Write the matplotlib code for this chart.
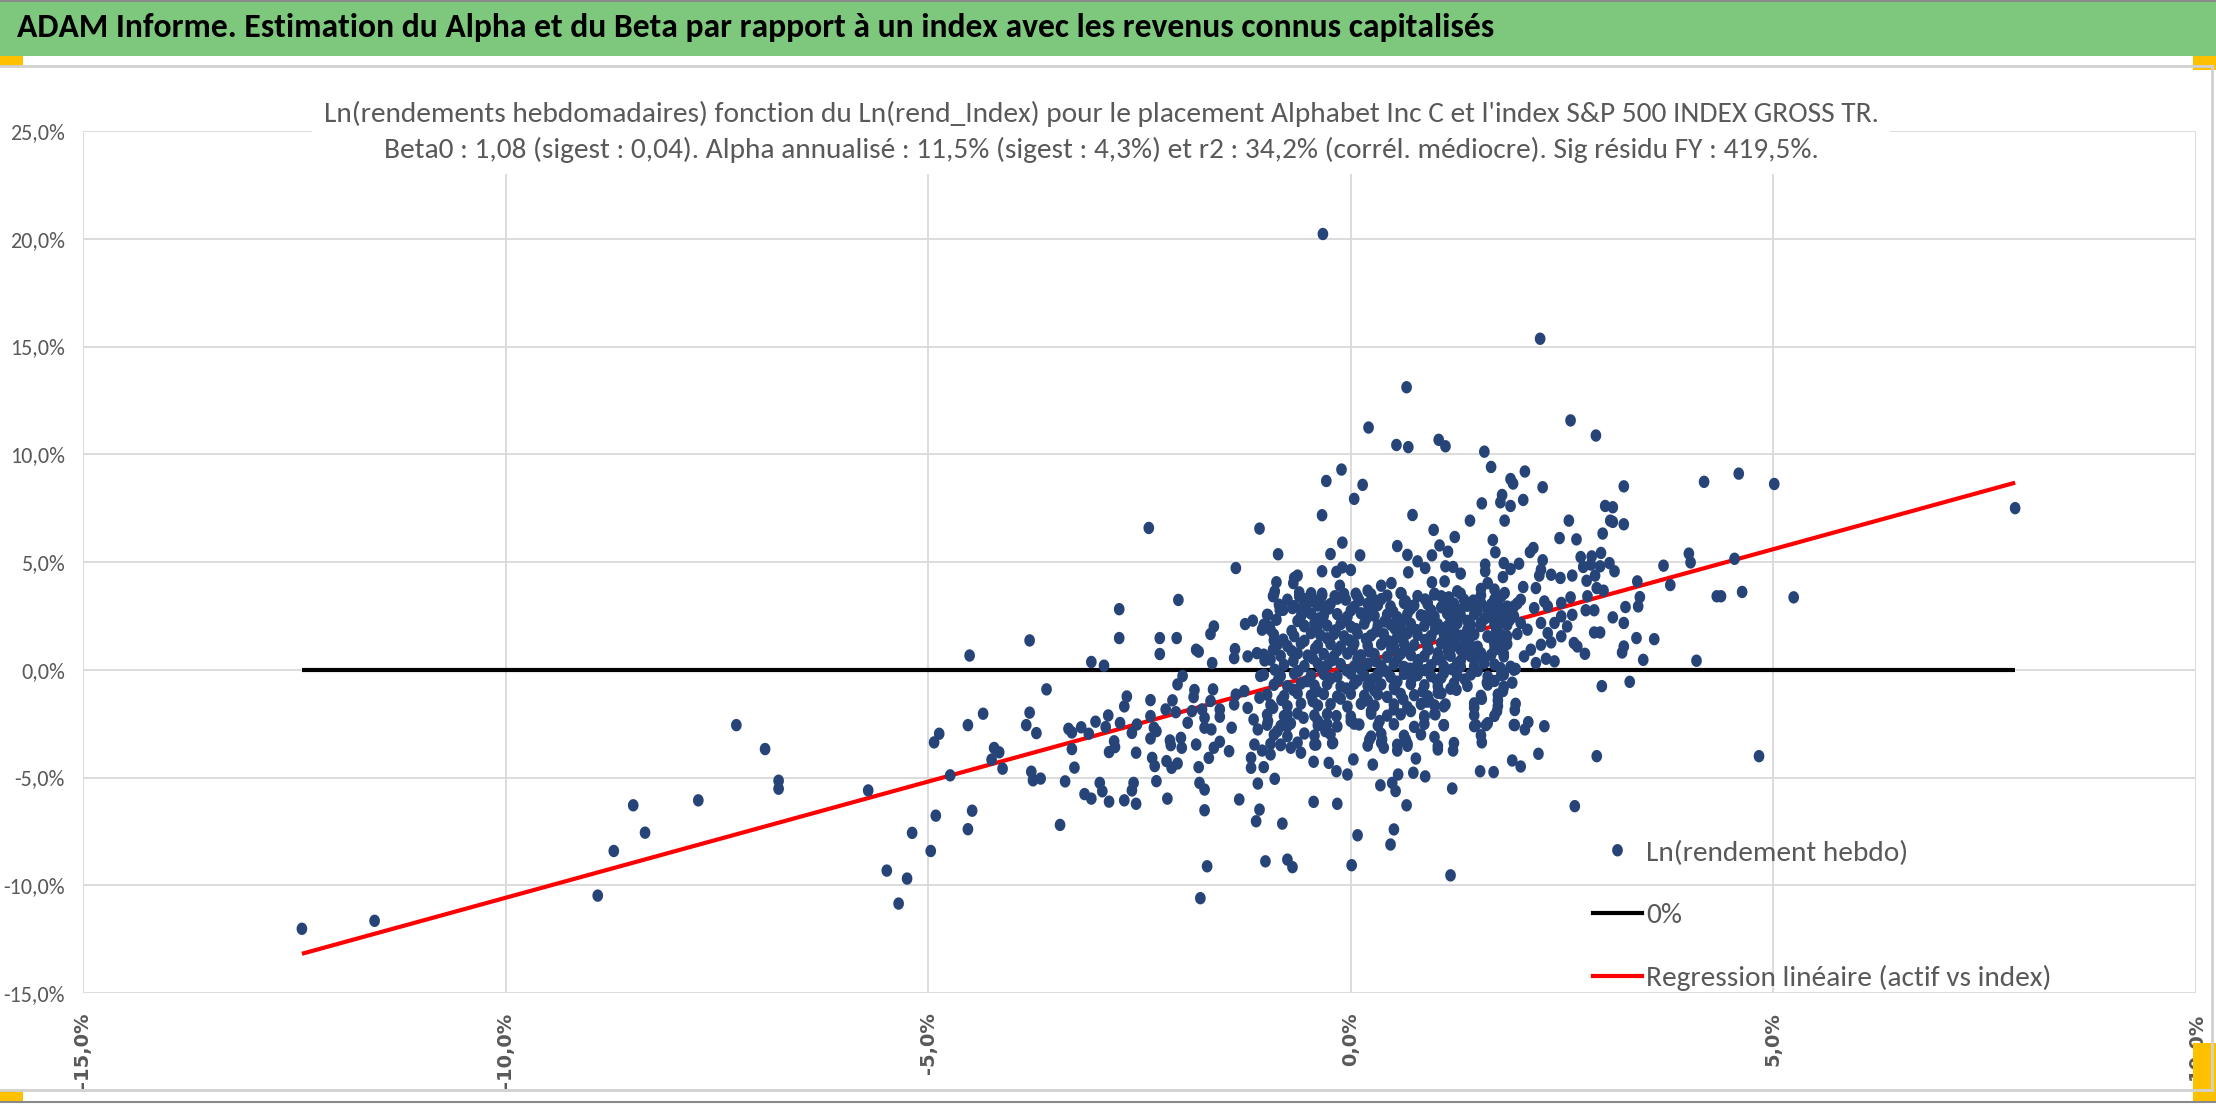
import numpy as np
import matplotlib
matplotlib.use("Agg")
import matplotlib.pyplot as plt
from matplotlib import font_manager
from matplotlib.path import Path
from matplotlib.lines import Line2D
from matplotlib.patches import Rectangle

# ==========================================
# 1. DATA (% units)
# ==========================================
# isolated points, far left
pts_left = [
    (-12.41, -12.02), (-11.55, -11.65), (-8.91, -10.48), (-8.72, -8.41), (-8.49, -6.29),
    (-8.35, -7.56), (-7.72, -6.06), (-7.27, -2.57), (-6.93, -3.68), (-6.77, -5.15),
    (-6.77, -5.52), (-5.71, -5.60), (-5.49, -9.32), (-5.35, -10.85), (-5.25, -9.69),
    (-5.19, -7.57), (-4.97, -8.41), (-4.91, -6.77), (-4.93, -3.37), (-4.87, -2.97),
    (-4.74, -4.90), (-4.53, -2.57), (-4.51, 0.66), (-4.53, -7.40), (-4.48, -6.54),
    (-4.35, -2.04), (-4.25, -4.17), (-4.22, -3.63), (-4.16, -3.83), (-4.12, -4.59),
    (-3.80, 1.36), (-3.84, -2.57), (-3.80, -1.99), (-3.72, -2.94), (-3.78, -4.73),
    (-3.76, -5.13), (-3.67, -5.05), (-3.60, -0.91), (-3.44, -7.20), (-3.38, -5.18),
    (-3.34, -2.74), (-3.30, -2.91), (-3.30, -3.68), (-3.27, -4.54), (-3.19, -2.67),
    (-3.15, -5.77), (-3.07, -5.98), (-3.10, -2.97), (-3.07, 0.36), (-3.02, -2.41),
    (-2.97, -5.25), (-2.94, -5.64), (-2.92, 0.19), (-2.90, -2.66), (-2.87, -2.12),
    (-2.86, -3.82), (-2.86, -6.12), (-2.80, -3.32), (-2.79, -3.59), (-2.74, 2.81),
    (-2.74, 1.47), (-2.73, -2.47), (-2.68, -1.70), (-2.68, -6.06), (-2.65, -1.24),
]
# high outliers and other stragglers
pts_top = [
    (-0.33, 20.22), (2.24, 15.36), (0.66, 13.11), (0.21, 11.24), (0.54, 10.43),
    (0.68, 10.33), (1.04, 10.67), (1.12, 10.37), (1.58, 10.12), (2.60, 11.57),
    (2.90, 10.87), (7.86, 7.50), (-1.78, -10.60),
]
# upper-left side of the cloud
pts_ul = [
    (-2.39, 6.58), (-2.26, 1.47), (-2.26, 0.73), (-2.06, 1.47), (-2.04, 3.24),
    (-1.83, 0.93), (-1.80, 0.84), (-1.66, 1.66), (-1.62, 2.01), (-1.64, 0.31),
    (-1.36, 4.72), (-1.37, 0.96), (-1.38, 0.54), (-1.22, 0.62), (-1.25, 2.12),
    (-1.16, 2.28), (-1.11, 0.77), (-1.08, 6.55), (-1.05, 1.86), (-0.98, 2.54),
    (-0.96, 1.98), (-1.02, 0.43), (-0.91, 1.36), (-0.86, 5.36), (-0.88, 4.06),
    (-0.92, 3.41), (-0.90, 3.64), (-0.84, 2.76), (-0.69, 2.86), (-0.67, 4.26),
    (-0.63, 4.37), (-0.68, 4.02), (-0.61, 3.59), (-0.59, 2.79), (-0.55, 2.04),
    (-0.53, 3.28), (-0.45, 3.17), (-0.39, 3.07), (-0.34, 7.17), (-0.29, 8.76),
    (-0.34, 4.57), (-0.34, 3.53), (-0.30, 2.94), (-0.33, 2.28), (-0.24, 5.37),
    (-0.11, 9.29), (-0.10, 5.90), (-0.17, 4.54), (-0.10, 4.75), (0.00, 4.63),
    (-0.13, 3.90), (-0.19, 3.41), (-0.06, 3.25), (0.04, 7.93), (0.14, 8.58),
    (0.11, 5.31), (0.06, 3.53), (0.20, 3.67), (0.28, 3.22), (0.36, 3.90),
    (0.48, 4.02), (0.55, 5.74), (0.67, 5.33), (0.68, 4.52), (0.73, 7.18),
    (0.79, 5.03), (0.60, 3.53),
]
# upper-right side of the cloud
pts_ur = [
    (1.66, 9.41), (2.06, 9.20), (1.89, 8.85), (1.92, 8.64), (2.27, 8.47),
    (3.23, 8.51), (1.55, 7.72), (1.79, 8.11), (1.77, 7.77), (1.89, 7.60),
    (2.04, 7.88), (1.41, 6.92), (1.82, 6.92), (3.01, 7.60), (3.10, 7.54),
    (3.07, 6.92), (3.10, 6.86), (3.23, 6.75), (4.18, 8.72), (4.59, 9.10),
    (5.01, 8.62), (0.98, 6.49), (1.23, 6.16), (1.68, 6.02), (2.58, 6.92),
    (2.47, 6.11), (2.67, 6.05), (2.98, 6.32), (1.05, 5.77), (1.15, 5.48),
    (0.96, 5.31), (1.71, 5.45), (2.12, 5.46), (2.16, 5.65), (2.27, 5.08),
    (2.72, 5.23), (2.85, 5.26), (2.96, 5.42), (0.88, 4.72), (1.12, 4.80),
    (1.21, 4.77), (1.30, 4.46), (1.59, 4.88), (1.59, 4.57), (1.81, 4.95),
    (1.99, 4.92), (1.89, 4.67), (2.25, 4.64), (2.23, 4.37), (2.37, 4.41),
    (2.48, 4.26), (2.62, 4.37), (2.75, 4.77), (2.84, 4.88), (2.95, 4.80),
    (3.06, 4.95), (3.12, 4.57), (2.89, 4.37), (2.79, 4.13), (2.91, 3.79),
    (2.99, 3.67), (0.99, 3.53), (0.96, 4.06), (1.11, 4.10), (1.26, 3.64),
    (1.54, 3.75), (1.62, 4.02), (1.70, 3.72), (1.80, 4.30), (1.82, 3.56),
    (2.04, 3.84), (2.19, 3.79), (2.60, 3.36), (2.80, 3.41), (3.39, 4.10),
    (3.70, 4.83), (3.78, 3.93), (4.00, 5.39), (4.02, 4.98), (4.54, 5.15),
    (3.42, 3.37), (3.40, 2.94), (3.25, 2.91), (4.33, 3.41), (4.38, 3.41),
    (4.63, 3.61), (5.24, 3.36), (3.10, 2.43), (3.23, 2.17), (3.38, 1.47),
    (3.59, 1.42), (3.23, 1.08), (3.21, 0.80), (3.46, 0.46), (4.09, 0.42),
    (2.77, 0.74), (2.95, 1.73), (2.88, 1.73), (2.78, 2.76), (2.88, 2.76),
    (2.64, 1.24), (2.68, 1.08), (2.41, 0.39), (2.31, 0.51), (2.19, 0.31),
    (2.37, 1.27), (2.25, 1.16), (2.62, 2.55), (2.49, 3.10), (2.29, 3.17),
    (2.33, 2.94), (2.17, 2.86), (2.01, 3.25), (1.93, 2.94), (1.87, 2.48),
    (1.77, 2.17), (1.74, 3.10), (1.70, 2.63), (1.62, 2.79), (1.54, 3.10),
    (1.46, 2.94), (1.34, 3.25), (1.30, 2.79), (1.22, 2.48), (1.15, 3.10),
    (1.07, 3.41), (0.91, 3.10), (0.87, 2.48), (0.99, 2.17), (1.15, 1.86),
    (1.38, 1.86), (1.54, 2.17), (1.62, 1.55), (1.77, 1.24), (1.85, 1.55),
    (2.01, 2.17), (2.09, 1.86), (2.13, 0.93), (2.05, 0.62), (1.81, 0.62),
    (1.70, 0.93), (1.54, 0.77), (1.42, 0.62), (1.30, 0.93), (1.22, 1.24),
    (1.07, 1.24), (0.95, 1.55), (0.91, 0.93), (1.07, 0.46), (1.30, 0.15),
    (1.58, 0.31), (1.77, 0.08), (1.93, 0.00), (2.25, 2.17), (2.41, 2.17),
    (2.49, 2.48), (2.56, 2.01), (2.49, 1.55), (2.33, 1.70),
]
# lower-left side of the cloud
pts_ll = [
    (-2.59, -2.93), (-2.57, -5.25), (-2.59, -5.60), (-2.54, -3.85), (-2.54, -6.22),
    (-2.53, -2.54), (-2.37, -1.41), (-2.37, -2.15), (-2.37, -3.19), (-2.35, -4.09),
    (-2.32, -4.47), (-2.30, -5.17), (-2.33, -2.69), (-2.30, -2.85), (-2.19, -1.84),
    (-2.18, -4.24), (-2.17, -5.98), (-2.14, -3.28), (-2.13, -3.50), (-2.12, -4.55),
    (-2.11, -1.42), (-2.07, -1.97), (-2.05, -4.35), (-2.01, -3.16), (-2.00, -3.62),
    (-2.05, -0.68), (-1.99, -0.29), (-1.93, -2.46), (-1.88, -1.92), (-1.86, -1.27),
    (-1.85, -0.94), (-1.83, -3.47), (-1.80, -4.52), (-1.79, -5.25), (-1.73, -5.56),
    (-1.73, -6.52), (-1.70, -9.12), (-1.76, -1.84), (-1.73, -2.23), (-1.73, -2.69),
    (-1.68, -4.09), (-1.66, -1.45), (-1.63, -0.91), (-1.65, -2.77), (-1.62, -3.62),
    (-1.55, -2.18), (-1.55, -3.34), (-1.55, -1.84), (-1.44, -3.78), (-1.41, -2.69),
    (-1.38, -1.61), (-1.36, -1.15), (-1.32, -6.02), (-1.26, -0.99), (-1.22, -1.77),
    (-1.18, -4.55), (-1.18, -4.09), (-1.15, -2.31), (-1.14, -3.47), (-1.12, -7.03),
    (-1.08, -6.49), (-1.10, -5.28), (-1.07, -0.29), (-1.03, -4.52), (-1.05, -3.75),
    (-1.01, -8.89), (-1.10, -2.77), (-1.08, -1.30), (-0.98, -2.38), (-0.95, -3.93),
    (-0.92, -1.77), (-0.90, -5.06), (-0.87, -2.85), (-0.83, -3.47), (-0.81, -7.14),
    (-0.75, -8.81), (-0.69, -9.16), (-0.75, -2.08), (-0.71, -3.62), (-0.75, -2.62),
    (-0.59, -3.85), (-0.56, -2.23), (-0.44, -4.27), (-0.44, -6.13), (-0.41, -3.47),
    (-0.39, -2.38), (-0.30, -2.85), (-0.26, -4.32), (-0.21, -3.39), (-0.17, -2.15),
    (-0.17, -4.71), (-0.16, -6.22), (-0.04, -4.86), (0.01, -9.07), (0.03, -4.16),
    (0.08, -7.68), (0.00, -2.38), (0.10, -2.54), (0.22, -3.24), (0.26, -4.40),
    (0.35, -5.36), (0.37, -3.24), (0.39, -3.62), (0.34, -2.38), (0.47, -8.11),
    (0.51, -7.41), (0.49, -5.25), (0.53, -5.63), (0.55, -3.75), (0.56, -4.86),
    (0.66, -6.29), (0.65, -3.24), (0.67, -3.53), (0.77, -4.12), (0.74, -4.78),
    (0.71, -1.92), (0.24, -1.92), (0.51, -1.84),
]
# lower-right side of the cloud
pts_lr = [
    (2.97, -0.76), (3.30, -0.56), (2.91, -4.01), (4.83, -4.01), (2.65, -6.33),
    (1.18, -9.54), (1.20, -5.51), (0.88, -4.95), (1.03, -3.70), (1.21, -3.75),
    (1.53, -4.71), (1.69, -4.75), (1.91, -4.21), (2.01, -4.49), (2.22, -3.90),
    (1.55, -3.37), (1.48, -2.57), (1.60, -2.57), (1.94, -2.57), (2.06, -2.77),
    (2.10, -2.43), (2.29, -2.62), (1.10, -2.57), (1.00, -2.07), (0.87, -2.15),
    (1.46, -1.76), (1.73, -1.92), (1.74, -1.42), (1.95, -1.58), (1.94, -1.87),
    (1.55, -1.35), (1.12, -1.61), (0.93, -1.46), (1.03, -1.07), (1.25, -0.93),
    (1.61, -0.60), (1.80, -0.99), (1.91, -0.60), (1.81, -0.22), (1.07, -0.37),
]
# dense core of the cloud, read row by row
core_x = [
    -0.91, -0.61, -0.47, -0.34, -0.08, 0.08, 0.24, 0.43, 0.59, 0.79, 0.99, 1.16, 1.30, 1.54, 1.78,
    -0.85, -0.67, -0.55, -0.39, -0.24, 0.04, 0.20, 0.32, 0.47, 0.63, 0.75, 0.91, 1.07, 1.22, 1.38, 1.66, 1.85, 1.97,
    -0.99, -0.59, -0.47, -0.32, -0.16, -0.04, 0.12, 0.28, 0.43, 0.55, 0.67, 0.83, 0.99, 1.14, 1.30, 1.46, 1.62, 1.78, 1.93,
    -1.03, -0.55, -0.43, -0.28, -0.12, 0.00, 0.16, 0.32, 0.47, 0.59, 0.71, 0.87, 1.03, 1.14, 1.26, 1.42, 1.54, 1.70, 1.85,
    -0.91, -0.67, -0.47, -0.36, -0.20, -0.08, 0.08, 0.24, 0.39, 0.55, 0.67, 0.79, 0.95, 1.10, 1.30, 1.46, 1.62, 1.78, 1.97,
    -0.87, -0.75, -0.59, -0.39, -0.24, -0.12, 0.04, 0.20, 0.36, 0.51, 0.63, 0.75, 0.91, 1.07, 1.22, 1.34, 1.50, 1.70, 1.85,
    -1.03, -0.83, -0.63, -0.51, -0.32, -0.20, -0.04, 0.12, 0.28, 0.43, 0.59, 0.71, 0.87, 1.03, 1.18, 1.34, 1.50, 1.66, 1.81,
    -0.79, -0.55, -0.39, -0.28, -0.12, 0.04, 0.20, 0.36, 0.51, 0.63, 0.79, 0.95, 1.10, 1.26, 1.46, 1.70, 1.89,
    -1.03, -0.83, -0.67, -0.47, -0.32, -0.16, 0.00, 0.16, 0.32, 0.47, 0.63, 0.79, 0.95, 1.10, 1.26, 1.42, 1.62, 1.78,
    -0.91, -0.75, -0.59, -0.43, -0.28, -0.12, 0.04, 0.20, 0.36, 0.51, 0.71, 0.87, 1.03, 1.22, 1.38, 1.62, 1.81,
    -0.99, -0.79, -0.63, -0.47, -0.32, -0.16, 0.00, 0.16, 0.32, 0.43, 0.59, 0.75, 0.91, 1.07, 1.54, 1.74,
    -0.95, -0.75, -0.59, -0.39, -0.24, -0.04, 0.12, 0.28, 0.51, 0.67, 0.83, 0.99, 1.10, 1.46, 1.74,
    -0.99, -0.79, -0.63, -0.43, -0.28, 0.00, 0.24, 0.43, 0.59, 0.87, 0.99, 1.46, 1.70,
    -0.99, -0.83, -0.71, -0.39, -0.28, -0.16, 0.04, 0.32, 0.51, 0.75, 0.87, 1.10, 1.46, 1.62, 1.93,
    -0.91, -0.75, -0.55, -0.43, -0.24, 0.24, 0.36, 0.63, 0.83, 0.99, 1.54,
    -0.95, -0.83, -0.63, -0.43, -0.22, 0.20, 0.36, 0.55, 0.67, 1.03, 1.22,
]
core_y = [
    3.48, 3.40, 3.55, 3.45, 3.52, 3.38, 3.50, 3.44, 3.56, 3.42, 3.49, 3.36, 3.53, 3.46, 3.40,
    3.02, 2.95, 3.08, 2.98, 3.05, 2.92, 3.06, 3.00, 2.94, 3.10, 2.99, 3.04, 2.90, 3.07, 2.97, 3.03, 2.93, 3.08,
    2.55, 2.48, 2.60, 2.52, 2.58, 2.46, 2.62, 2.50, 2.56, 2.44, 2.59, 2.53, 2.47, 2.61, 2.51, 2.57, 2.45, 2.54, 2.49,
    2.09, 2.02, 2.15, 2.05, 2.12, 2.00, 2.14, 2.06, 2.10, 1.98, 2.13, 2.04, 2.11, 2.01, 2.16, 2.07, 2.03, 2.12, 2.08,
    1.63, 1.56, 1.70, 1.60, 1.66, 1.55, 1.68, 1.59, 1.65, 1.52, 1.69, 1.61, 1.57, 1.67, 1.58, 1.64, 1.54, 1.62, 1.66,
    1.16, 1.10, 1.22, 1.13, 1.19, 1.08, 1.21, 1.12, 1.18, 1.06, 1.20, 1.14, 1.09, 1.23, 1.11, 1.17, 1.07, 1.15, 1.20,
    0.70, 0.64, 0.76, 0.66, 0.73, 0.62, 0.75, 0.67, 0.72, 0.60, 0.74, 0.68, 0.63, 0.77, 0.65, 0.71, 0.61, 0.69, 0.74,
    0.23, 0.17, 0.29, 0.20, 0.26, 0.15, 0.28, 0.19, 0.25, 0.13, 0.27, 0.21, 0.16, 0.30, 0.18, 0.24, 0.14,
    -0.23, -0.29, -0.17, -0.26, -0.20, -0.31, -0.18, -0.27, -0.21, -0.33, -0.19, -0.25, -0.30, -0.16, -0.28, -0.22, -0.32, -0.24,
    -0.70, -0.76, -0.64, -0.73, -0.67, -0.78, -0.65, -0.74, -0.68, -0.80, -0.66, -0.72, -0.77, -0.63, -0.75, -0.69, -0.79,
    -1.16, -1.22, -1.10, -1.19, -1.13, -1.24, -1.11, -1.20, -1.14, -1.26, -1.12, -1.18, -1.23, -1.09, -1.21, -1.15,
    -1.63, -1.69, -1.57, -1.66, -1.60, -1.71, -1.58, -1.67, -1.61, -1.73, -1.59, -1.65, -1.70, -1.56, -1.68,
    -2.09, -2.15, -2.03, -2.12, -2.06, -2.17, -2.04, -2.13, -2.07, -2.19, -2.05, -2.11, -2.14,
    -2.55, -2.61, -2.49, -2.58, -2.52, -2.63, -2.50, -2.59, -2.53, -2.65, -2.51, -2.57, -2.62, -2.48, -2.56,
    -3.02, -3.08, -2.96, -3.05, -2.99, -3.10, -2.97, -3.06, -3.00, -3.12, -3.04,
    -3.44, -3.50, -3.38, -3.47, -3.41, -3.52, -3.39, -3.48, -3.43, -3.54, -3.40,
]
# points between the core rows (densest part)
core2_x = [
    -0.75, -0.41, -0.16, 0.10, 0.36, 0.65, 0.88, 1.12, 1.45, 1.70,
    -0.80, -0.52, -0.26, 0.00, 0.22, 0.50, 0.71, 0.95, 1.20, 1.50, 1.74,
    -0.88, -0.63, -0.38, -0.08, 0.18, 0.40, 0.65, 0.90, 1.18, 1.38, 1.58, 1.88,
    -0.95, -0.70, -0.40, -0.18, 0.06, 0.30, 0.52, 0.78, 1.00, 1.22, 1.40, 1.72,
    -0.80, -0.55, -0.28, -0.02, 0.18, 0.45, 0.62, 0.88, 1.16, 1.40, 1.68,
    -0.92, -0.70, -0.42, -0.16, 0.02, 0.22, 0.48, 0.65, 0.92, 1.15, 1.42, 1.78,
    -0.95, -0.68, -0.45, -0.22, 0.08, 0.30, 0.55, 0.80, 1.02, 1.30, 1.58,
    -0.90, -0.62, -0.35, -0.05, 0.12, 0.42, 0.70, 0.88, 1.20, 1.50, 1.95,
    -0.86, -0.52, -0.24, 0.08, 0.26, 0.55, 0.72, 1.02, 1.35, 1.70,
    -0.68, -0.40, -0.05, 0.28, 0.52, 0.85, 1.18,
    -0.82, -0.45, -0.12, 0.20, 0.62, 0.90,
]
core2_y = [
    3.25, 3.20, 3.30, 3.22, 3.28, 3.18, 3.26, 3.31, 3.21, 3.27,
    2.78, 2.72, 2.84, 2.75, 2.81, 2.70, 2.83, 2.76, 2.80, 2.73, 2.79,
    2.32, 2.26, 2.38, 2.29, 2.35, 2.24, 2.37, 2.30, 2.34, 2.27, 2.36, 2.31,
    1.86, 1.80, 1.92, 1.83, 1.89, 1.78, 1.91, 1.84, 1.88, 1.81, 1.90, 1.85,
    1.40, 1.34, 1.46, 1.37, 1.43, 1.32, 1.45, 1.38, 1.42, 1.35, 1.41,
    0.93, 0.87, 0.99, 0.90, 0.96, 0.85, 0.98, 0.91, 0.95, 0.88, 0.97, 0.92,
    0.47, 0.41, 0.53, 0.44, 0.50, 0.39, 0.52, 0.45, 0.49, 0.42, 0.51,
    0.00, -0.06, 0.06, -0.03, 0.03, -0.08, 0.05, -0.02, 0.02, -0.05, 0.04,
    -0.47, -0.53, -0.41, -0.50, -0.44, -0.55, -0.42, -0.49, -0.45, -0.52,
    -0.93, -0.99, -0.87, -0.96, -0.90, -1.01, -0.88,
    -1.40, -1.46, -1.34, -1.43, -1.37, -1.48,
]

# lines (endpoints)
zero_x = [-12.41, 7.86]
zero_y = [0.0, 0.0]
reg_x = [-12.41, 7.86]
reg_y = [-13.18, 8.68]

x_ticks = [-15, -10, -5, 0, 5, 10]
y_ticks = [-15, -10, -5, 0, 5, 10, 15, 20, 25]

BANNER = ("ADAM Informe. Estimation du Alpha et du Beta par rapport à un index "
          "avec les revenus connus capitalisés")
TITLE_1 = ("Ln(rendements hebdomadaires) fonction du Ln(rend_Index) pour le placement "
           "Alphabet Inc C et l'index S&P 500 INDEX GROSS TR.")
TITLE_2 = ("Beta0 : 1,08 (sigest : 0,04). Alpha annualisé : 11,5% (sigest : 4,3%) et "
           "r2 : 34,2% (corrél. médiocre). Sig résidu FY : 419,5%.")
LEG_LABELS = ["Ln(rendement hebdo)", "0%", "Regression linéaire (actif vs index)"]

# ==========================================
# 2. STYLE
# ==========================================
W, H = 2216, 1104
DOT = "#264478"
GREY_TXT = "#595959"
GRID = "#d9d9d9"
GREEN = "#7ec87e"
ORANGE = "#ffc000"

# Carlito is metric-compatible with Calibri (the chart's font)
names = {f.name for f in font_manager.fontManager.ttflist}
NARROW = next((n for n in ["Carlito", "Roboto Condensed", "Liberation Sans Narrow"] if n in names),
              "DejaVu Sans")

# ellipse marker, a bit taller than wide
t = np.linspace(0, 2 * np.pi, 40)
ELLIPSE = Path(np.column_stack([0.86 * np.cos(t), np.sin(t)]), closed=True)

fig = plt.figure(figsize=(W / 100, H / 100), dpi=100)
renderer = fig.canvas.get_renderer()


def size_for(text, target_px, **kw):
    tmp = fig.text(0, 0, text, fontsize=10, **kw)
    w = tmp.get_window_extent(renderer).width
    tmp.remove()
    return 10 * target_px / w


def fy(px):  # pixel from top -> figure fraction
    return 1 - px / H


# ==========================================
# 3. FRAME / BANNER
# ==========================================
fig.patches.append(Rectangle((0, fy(56)), 1, 56 / H, transform=fig.transFigure,
                             facecolor=GREEN, edgecolor="none", zorder=0))
fig.add_artist(Line2D([0, 1], [fy(1), fy(1)], color="#8a8a8a", lw=1.5))
fig.add_artist(Line2D([0, 2212 / W], [fy(66), fy(66)], color="#d0d0d0", lw=2))
fig.add_artist(Line2D([0, 2212 / W], [fy(1090), fy(1090)], color="#d0d0d0", lw=2))
fig.add_artist(Line2D([2212 / W, 2212 / W], [fy(1090), fy(66)], color="#d0d0d0", lw=2))
fig.add_artist(Line2D([0, 1], [fy(1102), fy(1102)], color="#8a8a8a", lw=1.5))
for (x0, y0, w, h) in [(0, 56, 23, 10), (0, 1091, 23, 11), (2193, 56, 23, 14), (2193, 1043, 23, 58)]:
    fig.patches.append(Rectangle((x0 / W, fy(y0 + h)), w / W, h / H, transform=fig.transFigure,
                                 facecolor=ORANGE, edgecolor="none", zorder=1))

fs_banner = size_for(BANNER, 1477, family=NARROW, weight="bold")
fig.text(17 / W, fy(28), BANNER, fontsize=fs_banner, family=NARROW, weight="bold",
         color="black", ha="left", va="center")

# ==========================================
# 4. AXES
# ==========================================
ax = fig.add_axes([83 / W, 1 - 993 / H, (2196 - 83) / W, (993 - 131) / H])
ax.set_xlim(-15, 10)
ax.set_ylim(-15, 25)
for s in ax.spines.values():
    s.set_visible(False)
ax.set_xticks(x_ticks)
ax.set_yticks(y_ticks)
ax.grid(True, color=GRID, lw=1.3)
ax.set_axisbelow(True)

fs_y = size_for("-10,0%", 62, family=NARROW)
fs_x = size_for("-15,0%", 76, family="DejaVu Sans", weight="bold")
ax.set_yticklabels([f"{v:.1f}%".replace(".", ",") for v in y_ticks],
                   fontsize=fs_y, family=NARROW, color=GREY_TXT)
ax.set_xticklabels([f"{v:.1f}%".replace(".", ",") for v in x_ticks],
                   fontsize=fs_x, family="DejaVu Sans", weight="bold", color=GREY_TXT,
                   rotation=90)
ax.tick_params(axis="both", length=0)
ax.tick_params(axis="y", pad=13)
ax.tick_params(axis="x", pad=14)

all_pts = np.array(pts_left + pts_top + pts_ul + pts_ur + pts_ll + pts_lr)
xs = np.concatenate([all_pts[:, 0], core_x, core2_x])
ys = np.concatenate([all_pts[:, 1], core_y, core2_y])

ax.plot(zero_x, zero_y, color="black", lw=3, solid_capstyle="butt", zorder=2)
ax.plot(reg_x, reg_y, color="#ff0000", lw=3, solid_capstyle="butt", zorder=2)
sc = ax.scatter(xs, ys, s=80, marker=ELLIPSE, color=DOT, edgecolors="none", zorder=3)

fs_t = size_for(TITLE_1, 1558, family=NARROW)
fig.text(1101 / W, fy(132), TITLE_1 + "\n" + TITLE_2, fontsize=fs_t, family=NARROW,
         color=GREY_TXT, ha="center", va="center", linespacing=1.45,
         bbox=dict(facecolor="white", edgecolor="none", pad=8), zorder=5)

# legend: fit text width, then adjust spacing/position on measured rows
fs_leg = size_for(LEG_LABELS[2], 407, family=NARROW)
fs_px = fs_leg * 100 / 72
handles = [sc, Line2D([], [], color="black", lw=3), Line2D([], [], color="#ff0000", lw=3)]


def make_legend(spacing, top):
    lg = ax.legend(handles, LEG_LABELS, loc="upper left",
                   bbox_to_anchor=(1593 / W, top), bbox_transform=fig.transFigure,
                   frameon=False, borderpad=0, borderaxespad=0, handlelength=49 / fs_px,
                   handletextpad=4 / fs_px, labelspacing=spacing,
                   scatterpoints=1, scatteryoffsets=[0.5],
                   prop={"family": NARROW, "size": fs_leg})
    for txt in lg.get_texts():
        txt.set_color(GREY_TXT)
    return lg


def row_centres(lg):
    fig.canvas.draw()
    return [H - txt.get_window_extent(renderer).y0 - txt.get_window_extent(renderer).height / 2
            for txt in lg.get_texts()]


spacing = (62.5 - 1.2 * fs_px) / fs_px
top = fy(853 - 0.6 * fs_px)
leg = make_legend(spacing, top)
c = row_centres(leg)
spacing += (125 - (c[2] - c[0])) / 2 / fs_px
leg = make_legend(spacing, top)
c = row_centres(leg)
top -= (853 - c[0]) / H
leg = make_legend(spacing, top)

fig.savefig("out.png", dpi=100)
